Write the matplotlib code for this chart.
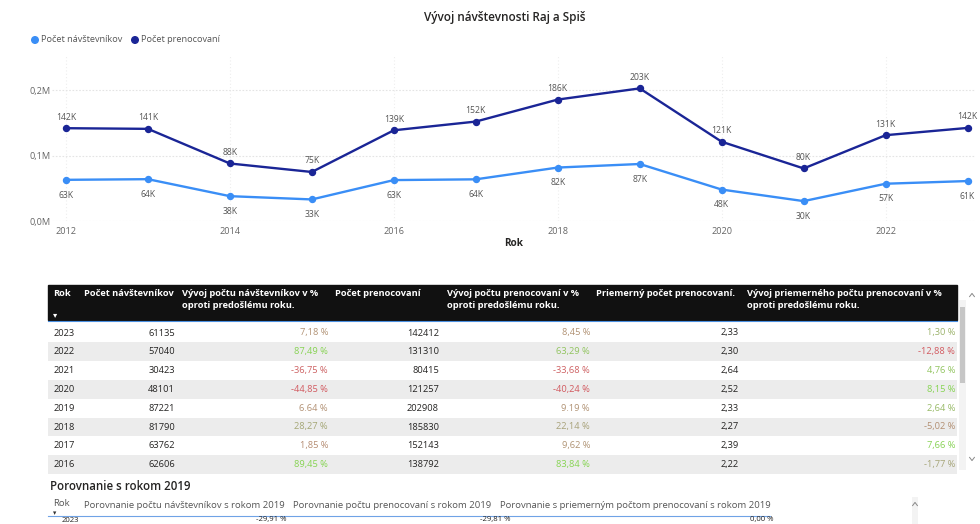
import matplotlib
matplotlib.use('Agg')
import matplotlib.pyplot as plt
from matplotlib.colors import LinearSegmentedColormap, Normalize
from matplotlib.patches import Rectangle, Circle
from matplotlib.ticker import FuncFormatter

plt.rcParams['font.family'] = ['Open Sans', 'DejaVu Sans']

# data
roky = list(range(2012, 2024))
navstevnici = [63000, 64000, 38000, 33000, 62606, 63762, 81790, 87221, 48101, 30423, 57040, 61135]
prenocovania = [142000, 141000, 88000, 75000, 138792, 152143, 185830, 202908, 121257, 80415, 131310, 142412]

# tabuľka (od 2023 po 2016)
vyvoj_navst = ['7,18 %', '87,49 %', '-36,75 %', '-44,85 %', '6.64 %', '28,27 %', '1,85 %', '89,45 %']
vyvoj_pren = ['8,45 %', '63,29 %', '-33,68 %', '-40,24 %', '9.19 %', '22,14 %', '9,62 %', '83,84 %']
priemer = ['2,33', '2,30', '2,64', '2,52', '2,33', '2,27', '2,39', '2,22']
vyvoj_priemer = ['1,30 %', '-12,88 %', '4,76 %', '8,15 %', '2,64 %', '-5,02 %', '7,66 %', '-1,77 %']

hlavicky = ['Rok', 'Počet návštevníkov', 'Vývoj počtu návštevníkov v %\noproti predošlému roku.',
            'Počet prenocovaní', 'Vývoj počtu prenocovaní v %\noproti predošlému roku.',
            'Priemerný počet prenocovaní.', 'Vývoj priemerného počtu prenocovaní v %\noproti predošlému roku.']
hlavicky2 = ['Rok', 'Porovnanie počtu návštevníkov s rokom 2019', 'Porovnanie počtu prenocovaní s rokom 2019',
             'Porovnanie s priemerným počtom prenocovaní s rokom 2019']
porovnanie_2023 = ['2023', '-29,91 %', '-29,81 %', '0,00 %']

C_NAV = '#3a8ef6'
C_PREN = '#1a2596'
TXT = '#252423'
GRAY = '#666666'

fig = plt.figure(figsize=(9.8, 5.24), dpi=100)

# pozadie / tabuľka v pixelových súradniciach
bg = fig.add_axes([0, 0, 1, 1], zorder=0)
bg.set_xlim(0, 980)
bg.set_ylim(524, 0)
bg.axis('off')

bg.text(505, 17, 'Vývoj návštevnosti Raj a Spiš', ha='center', va='center', fontsize=8.5,
        fontweight='semibold', color=TXT)
bg.add_patch(Circle((35, 40), 3.3, color=C_NAV))
bg.text(41, 40, 'Počet návštevníkov', va='center', fontsize=6.6, color='#555555')
bg.add_patch(Circle((135, 40), 3.3, color=C_PREN))
bg.text(141, 40, 'Počet prenocovaní', va='center', fontsize=6.6, color='#555555')

# graf
ax = fig.add_axes([52 / 980, (524 - 221) / 524, (975 - 52) / 980, (221 - 55) / 524], zorder=2)
ax.set_facecolor('none')
ax.plot(roky, navstevnici, color=C_NAV, lw=1.7, marker='o', ms=4.3)
ax.plot(roky, prenocovania, color=C_PREN, lw=1.7, marker='o', ms=4.3)
for x, v in zip(roky, prenocovania):
    ax.annotate(f'{round(v / 1000)}K', (x, v), xytext=(0, 8), textcoords='offset points',
                ha='center', va='center', fontsize=6.2, color='#555555')
for x, v in zip(roky, navstevnici):
    ax.annotate(f'{round(v / 1000)}K', (x, v), xytext=(0, -11), textcoords='offset points',
                ha='center', va='center', fontsize=6.2, color='#555555')
ax.set_xlim(2011.83, 2023.09)
ax.set_ylim(0, 254000)
ax.set_yticks([0, 100000, 200000])
ax.yaxis.set_major_formatter(FuncFormatter(lambda v, p: f'{v / 1e6:.1f}M'.replace('.', ',')))
ax.set_xticks(range(2012, 2024, 2))
ax.tick_params(length=0, labelsize=6.6, labelcolor=GRAY, pad=4)
ax.tick_params(axis='y', pad=1)
ax.grid(axis='y', color='#e4e4e4', lw=0.8, ls=(0, (1.5, 1.5)))
ax.grid(axis='x', color='#eeeeee', lw=0.8, ls=(0, (1, 2)))
for s in ax.spines.values():
    s.set_visible(False)
ax.set_xlabel('Rok', fontsize=7.2, fontweight='bold', color=TXT, labelpad=2)

# farby percent
cmap = LinearSegmentedColormap.from_list('pbi', ['#d25a60', '#a8a27a', '#86d452'])


def farby(stlpec):
    hodnoty = [float(s.replace(' %', '').replace(',', '.')) for s in stlpec]
    norm = Normalize(min(hodnoty), max(hodnoty))
    return [cmap(norm(h)) for h in hodnoty]


def chevron(x, y, hore=True, c='#888888'):
    d = -1.6 if hore else 1.6
    bg.plot([x - 2.4, x, x + 2.4], [y - d, y + d, y - d], color=c, lw=0.7)


rok_t = roky[::-1][:8]
navst_t = navstevnici[::-1][:8]
pren_t = prenocovania[::-1][:8]

# hlavička
bg.add_patch(Rectangle((48, 285), 909, 35, color='#111111'))
bg.plot([48, 957], [320.5, 320.5], color='#4a8fe0', lw=0.8)
head_x = [53, 84, 182, 335, 447, 596, 747]
for x, h in zip(head_x, hlavicky):
    bg.text(x, 289.5, h, va='top', ha='left', fontsize=6.7, fontweight='bold', color='white',
            linespacing=1.38)
bg.text(53, 315, '▾', va='center', ha='left', fontsize=6, color='white', family='DejaVu Sans')

row_h = 18.8
y0 = 333
stlpce = [
    ([str(r) for r in rok_t], 54, 'left', None),
    ([str(v) for v in navst_t], 175, 'right', None),
    (vyvoj_navst, 328, 'right', farby(vyvoj_navst)),
    ([str(v) for v in pren_t], 439, 'right', None),
    (vyvoj_pren, 590, 'right', farby(vyvoj_pren)),
    (priemer, 739, 'right', None),
    (vyvoj_priemer, 955, 'right', farby(vyvoj_priemer)),
]
for i in range(len(rok_t)):
    yc = y0 + i * row_h
    if i % 2 == 1:
        bg.add_patch(Rectangle((48, yc - row_h / 2), 909, row_h, color='#ececec', lw=0))
for texty, x, ha, cols in stlpce:
    for i, t in enumerate(texty):
        bg.text(x, y0 + i * row_h, t, ha=ha, va='center', fontsize=6.7,
                color=cols[i] if cols else TXT)

# posuvník
bg.add_patch(Rectangle((959, 300), 7, 170, color='#f3f3f3', lw=0))
bg.add_patch(Rectangle((960, 307), 5, 76, color='#c6c6c6', lw=0))
chevron(972, 295, True)
chevron(972, 459, False)

# druhá tabuľka
bg.text(50, 487, 'Porovnanie s rokom 2019', va='center', fontsize=8.3, fontweight='semibold', color=TXT)
head2_x = [53, 84, 293, 500]
head2_y = [503.5, 505, 505, 505]
for x, y, h in zip(head2_x, head2_y, hlavicky2):
    bg.text(x, y, h, va='center', ha='left', fontsize=6.8, color='#555555')
bg.text(53, 513, '▾', va='center', ha='left', fontsize=4.8, color='#333333', family='DejaVu Sans')
bg.plot([48, 770], [515.5, 515.5], color='#6fa3e6', lw=0.8)
for x, ha, t in zip([53, 286, 510, 773], ['left', 'right', 'right', 'right'], porovnanie_2023):
    bg.text(x if x != 53 else 62, 520, t, ha=ha, va='center', fontsize=5.6, color=TXT)
bg.add_patch(Rectangle((912, 497), 6, 27, color='#f3f3f3', lw=0))
chevron(915, 504, True)

fig.savefig('out.png', dpi=100)
